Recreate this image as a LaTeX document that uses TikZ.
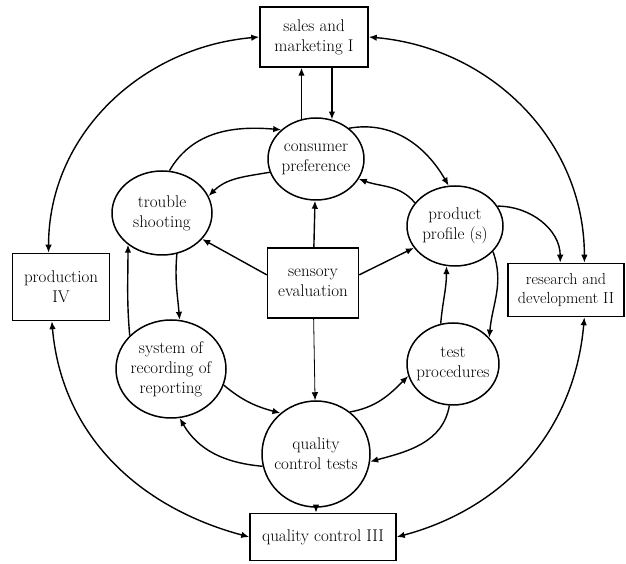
\documentclass[tikz,border=0pt]{standalone}
\usepackage{fontspec}
\usetikzlibrary{shapes.geometric,arrows.meta,calc}
\newcommand\diagfont{\fontsize{17}{20}\selectfont}
\tikzset{blk/.style={draw, rectangle, line width=1.5pt, align=center, inner sep=1pt, font=\diagfont},
    bub/.style n args={3}{draw, ellipse, line width=1.5pt, inner sep=0pt,
        minimum width=#1, minimum height=#2,
        label={[align=center, font=\diagfont]center:#3}},
    lnk/.style={->, line width=1.4pt},
    two/.style={<->, line width=1.4pt}
}
\begin{document}
\begin{tikzpicture}[>={Latex[length=8pt,width=6.5pt]}, x=1pt, y=1pt]
	\useasboundingbox (0,0) rectangle (626,564);
	\node[blk, minimum width=108pt, minimum height=60pt] (S1) at (314,527) {sales and\\marketing I};
	\node[blk, minimum width=97pt, minimum height=67pt] (prod) at (61,277) {production\\IV};
	\node[blk, minimum width=116pt, minimum height=53pt, font=\fontsize{16}{19}\selectfont] (rd) at (566,274) {research and\\development II};
	\node[blk, minimum width=91pt, minimum height=70pt] (sens) at (313,281) {sensory\\evaluation};
	\node[blk, minimum width=146pt, minimum height=47pt] (Q3) at (323,27) {quality control III};
	\node[bub={96pt}{82pt}{consumer\\preference}] (cons) at (316,405) {};
	\node[bub={100pt}{84pt}{trouble\\shooting}] (trou) at (162,351) {};
	\node[bub={96pt}{80pt}{product\\profile (s)}] (prof) at (455,338) {};
	\node[bub={110pt}{98pt}{system of\\recording of\\reporting}] (sys) at (171,195) {};
	\node[bub={92pt}{82pt}{test\\procedures}] (test) at (453,200) {};
	\node[bub={108pt}{106pt}{quality\\control tests}] (qct) at (316,110) {};
	\draw[lnk] (cons.110) -- (cons.110 |- S1.south);
	\draw[lnk] (S1.south -| cons.68) -- (cons.68);
	\draw[lnk] (sens) -- (cons);
	\draw[lnk] (sens.170) -- (trou.327);
	\draw[lnk] (sens.10) -- (prof.208);
	\draw[->, line width=0.8pt] (sens) -- (qct);
	\draw[lnk] (qct.south) -- (qct.south |- Q3.north);
	\draw[lnk] (trou.80) to[out=60,in=175] (cons.140);
	\draw[lnk] (cons.196) to[out=190,in=45] (trou.20);
	\draw[lnk] (cons.43) to[out=10,in=120] (prof.99);
	\draw[lnk] (prof.150) to[out=130,in=-20] (cons.335);
	\draw[lnk] (prof.326) to[out=-70,in=85] (test.36);
	\draw[lnk] (test.107) to[out=85,in=-90] (prof.258);
	\draw[lnk] (test.-95) to[out=-100,in=15] (qct.-8);
	\draw[lnk] (qct.51) to[out=10,in=225] (test.195);
	\draw[lnk] (qct.193) to[out=175,in=-60] (sys.-80);
	\draw[lnk] (sys.343) to[out=-40,in=165] (qct.131);
	\draw[lnk] (sys.141) to[out=95,in=-90] (trou.223);
	\draw[lnk] (trou.290) to[out=-95,in=95] (sys.80);
	\draw[lnk] (prof.25) to[out=0,in=90] (rd.102);
	\draw[two] (prod.110) to[out=90,in=185] (S1.west);
	\draw[two] (S1.east) to[out=-5,in=90] (rd.56);
	\draw[two] (prod.255) to[out=-85,in=165] (Q3.west);
	\draw[two] (rd.304) to[out=-95,in=15] (Q3.east);
\end{tikzpicture}
\end{document}
